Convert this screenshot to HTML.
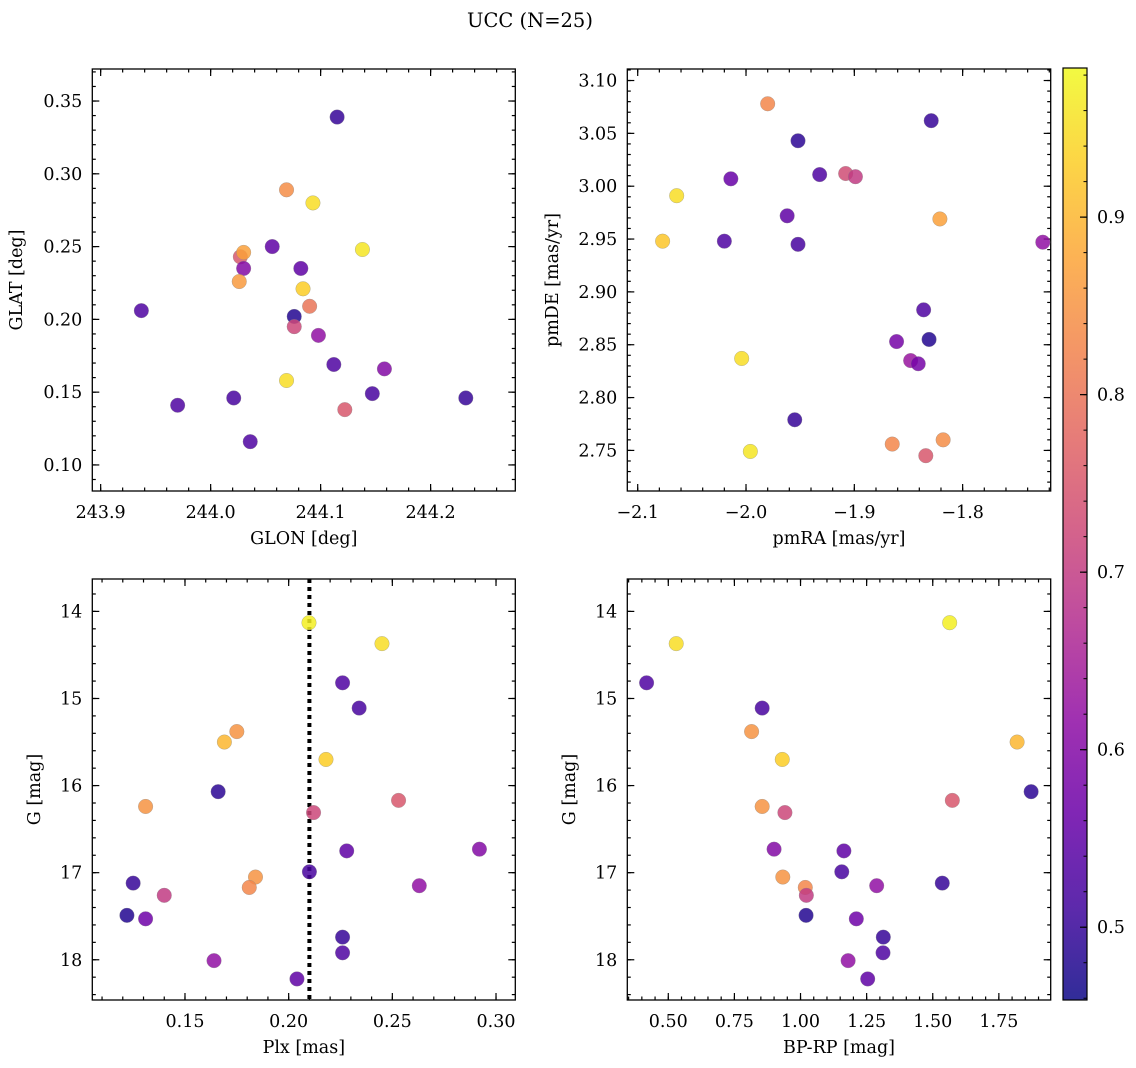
<!DOCTYPE html>
<html><head><meta charset="utf-8">
<style>
html,body{margin:0;padding:0;background:#fff;}
svg{display:block;font-family:"DejaVu Serif","Liberation Serif",serif;}
</style></head>
<body>
<svg id="fig" width="1136" height="1068" viewBox="0 0 1136 1068" xmlns="http://www.w3.org/2000/svg">
<text x="530" y="27" font-size="19.5" text-anchor="middle">UCC (N=25)</text>
</svg>
<script>
// Panel 1: GLON vs GLAT
const glon = [244.115,244.069,244.093,244.138,244.056,244.027,244.030,244.030,244.082,244.026,244.084,244.090,243.937,244.076,244.076,244.098,244.112,244.158,244.069,243.970,244.021,244.147,244.232,244.122,244.036];
const glat = [0.339,0.289,0.280,0.248,0.250,0.243,0.246,0.235,0.235,0.226,0.221,0.209,0.206,0.202,0.195,0.189,0.169,0.166,0.158,0.141,0.146,0.149,0.146,0.138,0.116];
const probA = [0.50,0.84,0.95,0.96,0.55,0.75,0.87,0.60,0.55,0.86,0.93,0.80,0.53,0.48,0.72,0.62,0.53,0.60,0.95,0.53,0.52,0.52,0.50,0.75,0.53];
// Panel 2: pmRA vs pmDE
const pmra = [-1.980,-1.952,-1.829,-2.064,-2.014,-1.932,-1.908,-1.899,-1.962,-1.821,-2.077,-2.020,-1.952,-1.726,-1.836,-1.831,-1.861,-1.848,-1.841,-2.004,-1.955,-1.865,-1.818,-1.834,-1.996];
const pmde = [3.078,3.043,3.062,2.991,3.007,3.011,3.012,3.009,2.972,2.969,2.948,2.948,2.945,2.947,2.883,2.855,2.853,2.835,2.832,2.837,2.779,2.756,2.760,2.745,2.749];
const probB = [0.83,0.49,0.50,0.95,0.56,0.53,0.73,0.70,0.55,0.87,0.92,0.53,0.52,0.62,0.53,0.48,0.58,0.63,0.58,0.95,0.50,0.83,0.84,0.75,0.96];
// Panels 3 & 4: Plx, BP-RP vs G
const plx  = [0.2098,0.245,0.226,0.234,0.175,0.169,0.218,0.166,0.253,0.131,0.212,0.292,0.228,0.210,0.184,0.125,0.263,0.181,0.140,0.122,0.131,0.226,0.226,0.164,0.204];
const gmag = [14.13,14.37,14.82,15.11,15.38,15.50,15.70,16.07,16.17,16.24,16.31,16.73,16.75,16.99,17.05,17.12,17.15,17.17,17.26,17.49,17.53,17.74,17.92,18.01,18.22];
const bprp = [1.564,0.530,0.418,0.855,0.815,1.819,0.931,1.872,1.574,0.855,0.941,0.900,1.164,1.156,0.933,1.536,1.288,1.018,1.022,1.021,1.211,1.313,1.312,1.180,1.254];
const probC = [0.97,0.95,0.53,0.52,0.85,0.90,0.93,0.49,0.75,0.85,0.72,0.60,0.55,0.52,0.85,0.50,0.62,0.83,0.70,0.48,0.57,0.50,0.53,0.62,0.55];
const plxLine = 0.21;
const cbTicks = [0.5,0.6,0.7,0.8,0.9];

const NS="http://www.w3.org/2000/svg";
const svg=document.getElementById('fig');
function el(tag,attrs,parent){const e=document.createElementNS(NS,tag);for(const k in attrs)e.setAttribute(k,attrs[k]);(parent||svg).appendChild(e);return e;}
const VMIN=0.459,VMAX=0.984;
const plasma=[[13,8,135],[65,4,157],[106,0,168],[143,13,164],[177,42,144],[204,71,120],[225,100,98],[242,132,75],[252,166,54],[252,206,37],[240,249,33]];
function cmap(v){let t=(v-VMIN)/(VMAX-VMIN);t=Math.max(0,Math.min(1,t));const p=t*10,i=Math.min(9,Math.floor(p)),f=p-i;const a=plasma[i],b=plasma[i+1];return `rgb(${Math.round(a[0]+(b[0]-a[0])*f)},${Math.round(a[1]+(b[1]-a[1])*f)},${Math.round(a[2]+(b[2]-a[2])*f)})`;}
function fmt(v,d){const s=v.toFixed(d);return s.startsWith('-')?'\u2212'+s.slice(1):s;}
const FS=17.5;

function panel(cfg){
  const {L,T,R,B,xd,yd,xt,xm,yt,ym,xdec,ydec,xlab,ylab,ylabX,name,invY}=cfg;
  const g=el('g',{});
  
  
  const sx=v=>L+(v-xd[0])/(xd[1]-xd[0])*(R-L);
  const sy=invY? v=>T+(v-yd[0])/(yd[1]-yd[0])*(B-T) : v=>B-(v-yd[0])/(yd[1]-yd[0])*(B-T);
  const tk=el('g',{stroke:'#000','stroke-width':1.2},g);
  
  
  function ticksX(vals,len){vals.forEach(v=>{const x=sx(v);if(x<L-0.5||x>R+0.5)return;el('line',{x1:x,x2:x,y1:B,y2:B-len},tk);el('line',{x1:x,x2:x,y1:T,y2:T+len},tk);});}
  function ticksY(vals,len){vals.forEach(v=>{const y=sy(v);if(y<T-0.5||y>B+0.5)return;el('line',{x1:L,x2:L+len,y1:y,y2:y},tk);el('line',{x1:R,x2:R-len,y1:y,y2:y},tk);});}
  const rng=(a,b,s)=>{const r=[];for(let v=a;v<=b+1e-9;v+=s)r.push(+v.toFixed(6));return r;};
  ticksX(rng(xm[0],xd[1],xm[1]),3.5);ticksX(xt,7);
  ticksY(rng(ym[0],Math.max(yd[0],yd[1]),ym[1]),3.5);ticksY(yt,7);
  xt.forEach(v=>{const t=el('text',{x:sx(v),y:B+27,'font-size':FS,'text-anchor':'middle'},g);t.textContent=fmt(v,xdec);
    });
  yt.forEach(v=>{const t=el('text',{x:L-10,y:sy(v)+6,'font-size':FS,'text-anchor':'end'},g);t.textContent=fmt(v,ydec);
    });
  const xl=el('text',{x:(L+R)/2,y:B+53,'font-size':FS,'text-anchor':'middle'},g);xl.textContent=xlab;
  
  const yl=el('text',{x:ylabX,y:(T+B)/2,'font-size':FS,'text-anchor':'middle',transform:`rotate(-90 ${ylabX} ${(T+B)/2})`},g);yl.textContent=ylab;
  
  const fr=el('rect',{x:L,y:T,width:R-L,height:B-T,fill:'none',stroke:'#000','stroke-width':1.3},g);
  
  return {g,sx,sy};
}
function scatter(p,xs,ys,cs){
  xs.forEach((x,i)=>{const c=el('circle',{cx:p.sx(x),cy:p.sy(ys[i]),r:7.3,fill:cmap(cs[i]),'fill-opacity':0.85,stroke:'#888','stroke-width':0.5,'stroke-opacity':0.6},p.g);
    
    });
}

const p1=panel({L:92.3,T:69,R:515.3,B:491,xd:[243.8924,244.277],yd:[0.0821,0.372],xt:[243.9,244.0,244.1,244.2],xm:[243.9,0.02],yt:[0.10,0.15,0.20,0.25,0.30,0.35],ym:[0.09,0.01],xdec:1,ydec:2,xlab:'GLON [deg]',ylab:'GLAT [deg]',ylabX:22,name:'glon-glat-panel'});
scatter(p1,glon,glat,probA);
const p2=panel({L:627.3,T:69,R:1050.7,B:491,xd:[-2.1096,-1.7187],yd:[2.7116,3.1109],xt:[-2.1,-2.0,-1.9,-1.8],xm:[-2.1,0.02],yt:[2.75,2.80,2.85,2.90,2.95,3.00,3.05,3.10],ym:[2.72,0.01],xdec:1,ydec:2,xlab:'pmRA [mas/yr]',ylab:'pmDE [mas/yr]',ylabX:558,name:'pm-panel'});
scatter(p2,pmra,pmde,probB);
const p3=panel({L:92.3,T:579,R:515.3,B:1000,xd:[0.1053,0.3093],yd:[13.628,18.462],xt:[0.15,0.20,0.25,0.30],xm:[0.11,0.01],yt:[14,15,16,17,18],ym:[13.8,0.2],xdec:2,ydec:0,xlab:'Plx [mas]',ylab:'G [mag]',ylabX:40,name:'plx-g-panel',invY:true});
const vl=el('line',{x1:p3.sx(plxLine),x2:p3.sx(plxLine),y1:579,y2:1000,stroke:'#000','stroke-width':4,'stroke-dasharray':'4,4'},p3.g);


scatter(p3,plx,gmag,probC);
const p4=panel({L:627.3,T:579,R:1050.7,B:1000,xd:[0.345,1.946],yd:[13.628,18.462],xt:[0.5,0.75,1.0,1.25,1.5,1.75],xm:[0.35,0.05],yt:[14,15,16,17,18],ym:[13.8,0.2],xdec:2,ydec:0,xlab:'BP-RP [mag]',ylab:'G [mag]',ylabX:575,name:'cmd-panel',invY:true});
scatter(p4,bprp,gmag,probC);

// colorbar
const cbL=1063,cbR=1087,cbT=68,cbB=1000;
const defs=el('defs',{});
const lg=el('linearGradient',{id:'cbg',x1:0,y1:1,x2:0,y2:0},defs);
for(let i=0;i<=20;i++){const v=VMIN+(VMAX-VMIN)*i/20;el('stop',{offset:(i/20),'stop-color':cmap(v)},lg);}
const cb=el('g',{});


el('rect',{x:cbL,y:cbT,width:cbR-cbL,height:cbB-cbT,fill:'url(#cbg)','fill-opacity':0.85,stroke:'#000','stroke-width':1.2},cb);
const cy=v=>cbB-(v-VMIN)/(VMAX-VMIN)*(cbB-cbT);
for(let v=0.46;v<VMAX;v+=0.02){const y=cy(v);el('line',{x1:cbR,x2:cbR-3.5,y1:y,y2:y,stroke:'#000','stroke-width':1},cb);}
cbTicks.forEach(v=>{const y=cy(v);el('line',{x1:cbR,x2:cbR-7,y1:y,y2:y,stroke:'#000','stroke-width':1.2},cb);
  const t=el('text',{x:cbR+10,y:y+6,'font-size':FS},cb);t.textContent=v.toFixed(1);
  });
</script>
</body></html>
